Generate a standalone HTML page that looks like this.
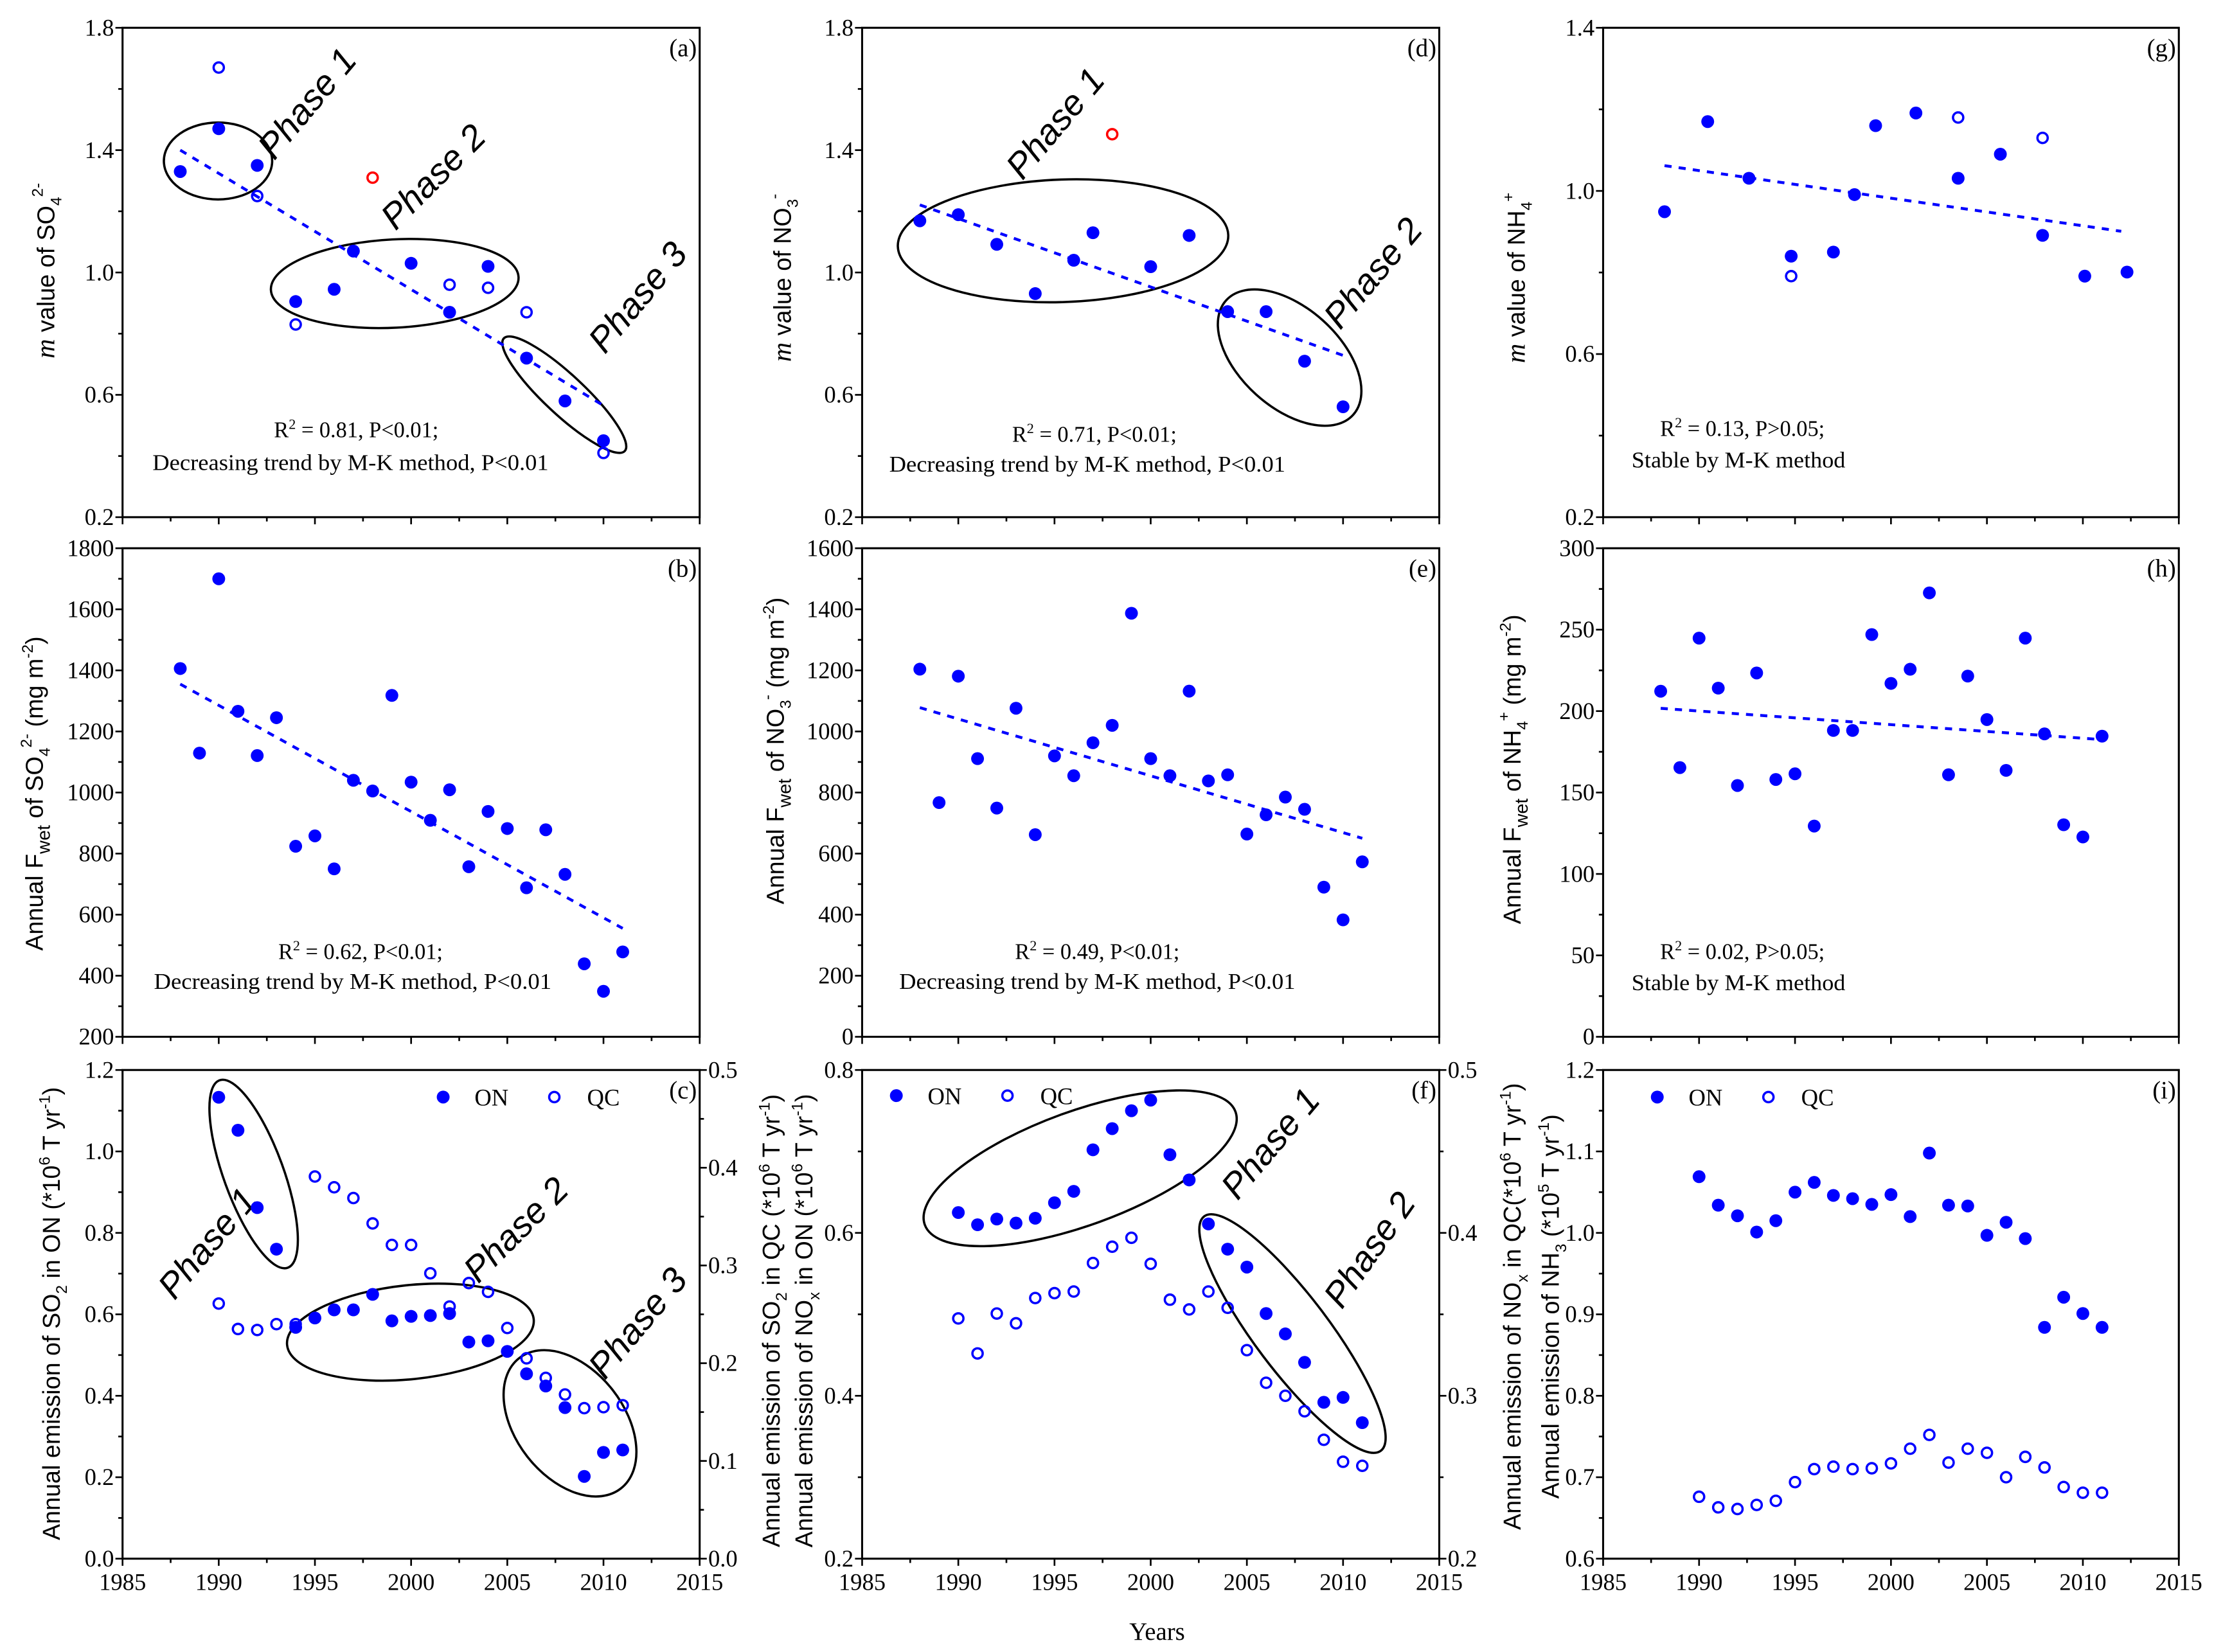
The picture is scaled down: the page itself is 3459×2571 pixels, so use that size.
<!DOCTYPE html>
<html><head><meta charset="utf-8"><title>Deposition trends</title>
<style>
html,body{margin:0;padding:0;background:#fff;}
svg{display:block;}
.tk{font-family:"Liberation Serif",serif;font-size:16.5px;fill:#000;}
.plab{font-family:"Liberation Serif",serif;font-size:17.5px;fill:#000;}
.ttl{font-family:"Liberation Sans",sans-serif;font-size:17px;fill:#000;}
.ann{font-family:"Liberation Serif",serif;font-size:15.5px;fill:#000;}
.ph{font-family:"Liberation Sans",sans-serif;font-size:25px;fill:#000;font-style:italic;}
</style></head>
<body>
<svg id="fig" xmlns="http://www.w3.org/2000/svg" width="3459" height="2571" viewBox="0 0 1560 1159.5" preserveAspectRatio="none">
<rect x="0" y="0" width="1560" height="1159.5" fill="#fff"/>

<!-- y-axis titles -->
<text class="ttl" transform="translate(38,190) rotate(-90)" text-anchor="middle"><tspan font-family="Liberation Serif" font-style="italic" font-size="19">m</tspan> value of SO<tspan font-size="11" dy="5">4</tspan><tspan font-size="11" dy="-13">2-</tspan></text>
<text class="ttl" transform="translate(30,557) rotate(-90)" text-anchor="middle">Annual F<tspan font-size="13" dy="5">wet</tspan><tspan dy="-5"> of SO</tspan><tspan font-size="11" dy="5">4</tspan><tspan font-size="11" dy="-13">2-</tspan><tspan dy="8"> (mg m</tspan><tspan font-size="11" dy="-7">-2</tspan><tspan dy="7">)</tspan></text>
<text class="ttl" transform="translate(42,922) rotate(-90)" text-anchor="middle">Annual emission of SO<tspan font-size="11" dy="5">2</tspan><tspan dy="-5"> in ON (*10</tspan><tspan font-size="11" dy="-7">6</tspan><tspan dy="7"> T yr</tspan><tspan font-size="11" dy="-7">-1</tspan><tspan dy="7">)</tspan></text>

<text class="ttl" transform="translate(555,195) rotate(-90)" text-anchor="middle"><tspan font-family="Liberation Serif" font-style="italic" font-size="19">m</tspan> value of NO<tspan font-size="11" dy="5">3</tspan><tspan font-size="11" dy="-13">-</tspan></text>
<text class="ttl" transform="translate(550,527) rotate(-90)" text-anchor="middle">Annual F<tspan font-size="13" dy="5">wet</tspan><tspan dy="-5"> of NO</tspan><tspan font-size="11" dy="5">3</tspan><tspan font-size="11" dy="-13">-</tspan><tspan dy="8"> (mg m</tspan><tspan font-size="11" dy="-7">-2</tspan><tspan dy="7">)</tspan></text>
<text class="ttl" transform="translate(547,927) rotate(-90)" text-anchor="middle">Annual emission of SO<tspan font-size="11" dy="5">2</tspan><tspan dy="-5"> in QC (*10</tspan><tspan font-size="11" dy="-7">6</tspan><tspan dy="7"> T yr</tspan><tspan font-size="11" dy="-7">-1</tspan><tspan dy="7">)</tspan></text>
<text class="ttl" transform="translate(570,927) rotate(-90)" text-anchor="middle">Annual emission of NO<tspan font-size="11" dy="5">x</tspan><tspan dy="-5"> in ON (*10</tspan><tspan font-size="11" dy="-7">6</tspan><tspan dy="7"> T yr</tspan><tspan font-size="11" dy="-7">-1</tspan><tspan dy="7">)</tspan></text>

<text class="ttl" transform="translate(1070,195) rotate(-90)" text-anchor="middle"><tspan font-family="Liberation Serif" font-style="italic" font-size="19">m</tspan> value of NH<tspan font-size="11" dy="5">4</tspan><tspan font-size="11" dy="-13">+</tspan></text>
<text class="ttl" transform="translate(1067,540) rotate(-90)" text-anchor="middle">Annual F<tspan font-size="13" dy="5">wet</tspan><tspan dy="-5"> of NH</tspan><tspan font-size="11" dy="5">4</tspan><tspan font-size="11" dy="-13">+</tspan><tspan dy="8"> (mg m</tspan><tspan font-size="11" dy="-7">-2</tspan><tspan dy="7">)</tspan></text>
<text class="ttl" transform="translate(1067,917) rotate(-90)" text-anchor="middle">Annual emission of NO<tspan font-size="11" dy="5">x</tspan><tspan dy="-5"> in QC(*10</tspan><tspan font-size="11" dy="-7">6</tspan><tspan dy="7"> T yr</tspan><tspan font-size="11" dy="-7">-1</tspan><tspan dy="7">)</tspan></text>
<text class="ttl" transform="translate(1094,917) rotate(-90)" text-anchor="middle">Annual emission of NH<tspan font-size="11" dy="5">3</tspan><tspan dy="-5"> (*10</tspan><tspan font-size="11" dy="-7">5</tspan><tspan dy="7"> T yr</tspan><tspan font-size="11" dy="-7">-1</tspan><tspan dy="7">)</tspan></text>

<text x="812" y="1151" text-anchor="middle" style="font-family:'Liberation Serif',serif;font-size:17.5px;fill:#000">Years</text>

<!-- annotations -->
<text class="ann" x="250" y="307" text-anchor="middle">R<tspan font-size="10" dy="-6">2</tspan><tspan dy="6"> = 0.81, P&lt;0.01;</tspan></text>
<text class="ann" x="107" y="330" textLength="278" lengthAdjust="spacingAndGlyphs">Decreasing trend by M-K method, P&lt;0.01</text>
<text class="ann" x="253" y="673" text-anchor="middle">R<tspan font-size="10" dy="-6">2</tspan><tspan dy="6"> = 0.62, P&lt;0.01;</tspan></text>
<text class="ann" x="108" y="694" textLength="279" lengthAdjust="spacingAndGlyphs">Decreasing trend by M-K method, P&lt;0.01</text>
<text class="ann" x="768" y="310" text-anchor="middle">R<tspan font-size="10" dy="-6">2</tspan><tspan dy="6"> = 0.71, P&lt;0.01;</tspan></text>
<text class="ann" x="624" y="331" textLength="278" lengthAdjust="spacingAndGlyphs">Decreasing trend by M-K method, P&lt;0.01</text>
<text class="ann" x="770" y="673" text-anchor="middle">R<tspan font-size="10" dy="-6">2</tspan><tspan dy="6"> = 0.49, P&lt;0.01;</tspan></text>
<text class="ann" x="631" y="694" textLength="278" lengthAdjust="spacingAndGlyphs">Decreasing trend by M-K method, P&lt;0.01</text>
<text class="ann" x="1165" y="306">R<tspan font-size="10" dy="-6">2</tspan><tspan dy="6"> = 0.13, P&gt;0.05;</tspan></text>
<text class="ann" x="1145" y="328" textLength="150" lengthAdjust="spacingAndGlyphs">Stable by M-K method</text>
<text class="ann" x="1165" y="673">R<tspan font-size="10" dy="-6">2</tspan><tspan dy="6"> = 0.02, P&gt;0.05;</tspan></text>
<text class="ann" x="1145" y="695" textLength="150" lengthAdjust="spacingAndGlyphs">Stable by M-K method</text>

<!-- phase ellipses & labels -->
<g fill="none" stroke="#000" stroke-width="1.6">
<ellipse cx="153" cy="113" rx="38" ry="27"/>
<ellipse cx="277" cy="199" rx="87" ry="31" transform="rotate(-3 277 199)"/>
<ellipse cx="396" cy="277" rx="58" ry="14" transform="rotate(43 396 277)"/>
<ellipse cx="178" cy="824" rx="70" ry="21" transform="rotate(70 178 824)"/>
<ellipse cx="288" cy="935" rx="87" ry="33" transform="rotate(-6 288 935)"/>
<ellipse cx="400" cy="999" rx="58" ry="38" transform="rotate(52 400 999)"/>
<ellipse cx="746" cy="169" rx="116" ry="43" transform="rotate(-2 746 169)"/>
<ellipse cx="905" cy="251" rx="60" ry="35" transform="rotate(42 905 251)"/>
<ellipse cx="758" cy="820" rx="116" ry="40" transform="rotate(-20 758 820)"/>
<ellipse cx="907" cy="936" rx="103" ry="26" transform="rotate(53 907 936)"/>
</g>
<text class="ph" transform="translate(222,78) rotate(-50)" text-anchor="middle">Phase 1</text>
<text class="ph" transform="translate(310,130) rotate(-45)" text-anchor="middle">Phase 2</text>
<text class="ph" transform="translate(454,214) rotate(-50)" text-anchor="middle">Phase 3</text>
<text class="ph" transform="translate(152,878) rotate(-50)" text-anchor="middle">Phase 1</text>
<text class="ph" transform="translate(368,869) rotate(-45)" text-anchor="middle">Phase 2</text>
<text class="ph" transform="translate(454,934) rotate(-50)" text-anchor="middle">Phase 3</text>
<text class="ph" transform="translate(747,92) rotate(-50)" text-anchor="middle">Phase 1</text>
<text class="ph" transform="translate(970,197) rotate(-50)" text-anchor="middle">Phase 2</text>
<text class="ph" transform="translate(898,808) rotate(-50)" text-anchor="middle">Phase 1</text>
<text class="ph" transform="translate(968,882) rotate(-55)" text-anchor="middle">Phase 2</text>
<g id="plots"></g>
</svg>

<script>
// ---------- data ----------
const aYearsF = [1988,1990,1992,1994,1996,1997,2000,2002,2004,2006,2008,2010];
const aValsF = [1.33,1.47,1.35,0.905,0.945,1.07,1.03,0.87,1.02,0.72,0.58,0.45];
const aYearsO = [1990,1992,1994,2002,2004,2006,2010];
const aValsO = [1.67,1.25,0.83,0.96,0.95,0.87,0.41];
const aOutYears = [1998];
const aOutVals = [1.31];
const aTrendYears = [1988,2010];
const aTrendVals = [1.40,0.565];

const bYears = [1988,1989,1990,1991,1992,1993,1994,1995,1996,1997,1998,1999,2000,2001,2002,2003,2004,2005,2006,2007,2008,2009,2010,2011];
const bVals = [1406,1129,1700,1266,1121,1245,824,858,750,1040,1005,1318,1034,909,1009,757,938,882,688,878,732,439,349,478];
const bTrendYears = [1988,2011];
const bTrendVals = [1355,555];

const dYearsF = [1988,1990,1992,1994,1996,1997,2000,2002,2004,2006,2008,2010];
const dValsF = [1.169,1.189,1.092,0.931,1.04,1.13,1.019,1.121,0.872,0.872,0.71,0.561];
const dOutYears = [1998];
const dOutVals = [1.452];
const dTrendYears = [1988,2010];
const dTrendVals = [1.221,0.729];

const eYears = [1988,1989,1990,1991,1992,1993,1994,1995,1996,1997,1998,1999,2000,2001,2002,2003,2004,2005,2006,2007,2008,2009,2010,2011];
const eVals = [1204,767,1181,911,749,1076,662,920,855,963,1020,1387,911,855,1132,838,858,664,727,785,745,490,383,573];
const eTrendYears = [1988,2011];
const eTrendVals = [1078,650];

const gYearsF = [1988.2,1990.45,1992.6,1994.8,1997,1998.1,1999.2,2001.3,2003.5,2005.7,2007.9,2010.1,2012.3];
const gValsF = [0.949,1.17,1.031,0.84,0.85,0.991,1.16,1.191,1.031,1.09,0.891,0.791,0.801];
const gYearsO = [1994.8,2003.5,2007.9];
const gValsO = [0.791,1.18,1.13];
const gTrendYears = [1988.2,2012];
const gTrendVals = [1.062,0.901];

const hYears = [1988,1989,1990,1991,1992,1993,1994,1995,1996,1997,1998,1999,2000,2001,2002,2003,2004,2005,2006,2007,2008,2009,2010,2011];
const hVals = [212.2,165.3,244.8,214.1,154.3,223.4,158,161.5,129.4,188.1,188.1,247,217,225.7,272.6,160.9,221.5,194.8,163.6,244.8,186,130.2,122.7,184.6];
const hTrendYears = [1988,2011];
const hTrendVals = [201.7,182.5];

const emYears = [1990,1991,1992,1993,1994,1995,1996,1997,1998,1999,2000,2001,2002,2003,2004,2005,2006,2007,2008,2009,2010,2011];
const cON = [1.133,1.052,0.862,0.760,0.568,0.591,0.611,0.611,0.649,0.584,0.595,0.597,0.602,0.532,0.535,0.509,0.454,0.424,0.371,0.202,0.261,0.267];
const cQC = [0.261,0.235,0.234,0.240,0.240,0.391,0.380,0.369,0.343,0.321,0.321,0.292,0.258,0.282,0.273,0.236,0.205,0.185,0.168,0.154,0.155,0.157];
const fON = [0.625,0.610,0.617,0.612,0.618,0.637,0.651,0.702,0.728,0.750,0.763,0.696,0.665,0.611,0.580,0.558,0.501,0.476,0.441,0.392,0.398,0.367];
const fQC = [0.495,0.452,0.501,0.489,0.520,0.526,0.528,0.563,0.583,0.594,0.562,0.518,0.506,0.528,0.508,0.456,0.416,0.400,0.381,0.346,0.319,0.314];
const iON = [1.069,1.034,1.021,1.001,1.015,1.050,1.062,1.046,1.042,1.035,1.047,1.020,1.098,1.034,1.033,0.997,1.013,0.993,0.884,0.921,0.901,0.884];
const iQC = [0.676,0.663,0.661,0.666,0.671,0.694,0.710,0.713,0.710,0.711,0.717,0.735,0.752,0.718,0.735,0.730,0.700,0.725,0.712,0.688,0.681,0.681];

const xTickYears = [1985,1990,1995,2000,2005,2010,2015];

// ---------- drawing ----------
const NS = 'http://www.w3.org/2000/svg';
const root = document.getElementById('plots');
function mk(tag, name, parent){
  const el = document.createElementNS(NS, tag);
  
  
  (parent||root).appendChild(el);
  return el;
}
function attrs(el, o){ for (const k in o) el.setAttribute(k, o[k]); return el; }

const COLS = [[86,491],[605,1010],[1125,1529]];
const ROWS = [[19.5,363],[384.8,727.7],[751,1094]];

function panel(id, col, row, ymin, ymax, major, minor, dec, showX){
  const p = {id, x0:COLS[col][0], x1:COLS[col][1], y0:ROWS[row][0], y1:ROWS[row][1], ymin, ymax};
  p.xs = v => p.x0 + (v-1985)/30*(p.x1-p.x0);
  p.ys = v => p.y1 - (v-ymin)/(ymax-ymin)*(p.y1-p.y0);
  const g = mk('g', 'panel-'+id);
  p.g = g;
  const fr = mk('rect', 'plot-frame-'+id, g);
  attrs(fr, {x:p.x0, y:p.y0, width:p.x1-p.x0, height:p.y1-p.y0, fill:'none', stroke:'#000', 'stroke-width':1.4});
  for (let yr=1985; yr<=2015.01; yr+=2.5){
    const isMaj = Math.abs(yr%5) < 0.01;
    const t = mk('line', 'x-tick-'+id, g);
    attrs(t, {x1:p.xs(yr), x2:p.xs(yr), y1:p.y1, y2:p.y1+(isMaj?5:3), stroke:'#000', 'stroke-width':1.2});
  }
  if (showX){
    xTickYears.forEach(yr => {
      const tx = mk('text', 'x-tick-label-'+id, g);
      attrs(tx, {x:p.xs(yr), y:p.y1+22, 'text-anchor':'middle', class:'tk'});
      tx.textContent = String(yr);
    });
  }
  const n = Math.round((ymax-ymin)/minor);
  for (let k=0; k<=n; k++){
    const v = ymin + k*minor;
    const isMaj = Math.abs(((v-ymin)/major) - Math.round((v-ymin)/major)) < 1e-6;
    const t = mk('line', 'y-tick-'+id, g);
    attrs(t, {x1:p.x0, x2:p.x0-(isMaj?5:3), y1:p.ys(v), y2:p.ys(v), stroke:'#000', 'stroke-width':1.2});
    if (isMaj){
      const tx = mk('text', 'y-tick-label-'+id, g);
      attrs(tx, {x:p.x0-6, y:p.ys(v)+5.5, 'text-anchor':'end', class:'tk'});
      tx.textContent = v.toFixed(dec);
    }
  }
  const lb = mk('text', 'panel-label-'+id, g);
  attrs(lb, {x:p.x1-2, y:p.y0+20, 'text-anchor':'end', class:'plab'});
  lb.textContent = '('+id+')';
  return p;
}
function rightAxis(p, rmin, rmax, major, minor){
  p.rs = v => p.y1 - (v-rmin)/(rmax-rmin)*(p.y1-p.y0);
  const n = Math.round((rmax-rmin)/minor);
  for (let k=0;k<=n;k++){
    const v = rmin + k*minor;
    const isMaj = Math.abs(((v-rmin)/major) - Math.round((v-rmin)/major)) < 1e-6;
    const t = mk('line', 'right-y-tick-'+p.id, p.g);
    attrs(t, {x1:p.x1, x2:p.x1+(isMaj?5:3), y1:p.rs(v), y2:p.rs(v), stroke:'#000', 'stroke-width':1.2});
    if (isMaj){
      const tx = mk('text', 'right-y-tick-label-'+p.id, p.g);
      attrs(tx, {x:p.x1+6, y:p.rs(v)+5.5, 'text-anchor':'start', class:'tk'});
      tx.textContent = v.toFixed(1);
    }
  }
}
function dots(p, years, vals, filled, color, name, yf){
  const f = yf || p.ys;
  years.forEach((yr,i) => {
    const c = mk('circle', name, p.g);
    if (filled) attrs(c, {cx:p.xs(yr), cy:f(vals[i]), r:4.5, fill:color});
    else attrs(c, {cx:p.xs(yr), cy:f(vals[i]), r:3.6, fill:'none', stroke:color, 'stroke-width':1.6});
  });
}
function trend(p, years, vals){
  const l = mk('line', 'trend-line-'+p.id, p.g);
  attrs(l, {x1:p.xs(years[0]), y1:p.ys(vals[0]), x2:p.xs(years[1]), y2:p.ys(vals[1]), stroke:'#0000ff', 'stroke-width':2, 'stroke-dasharray':'5,5'});
}
function legend(p, fx, y){
  const c1 = mk('circle', 'legend-marker-on-'+p.id, p.g);
  attrs(c1, {cx:fx, cy:y, r:4.5, fill:'#0000ff'});
  const t1 = mk('text', 'legend-label-on-'+p.id, p.g);
  attrs(t1, {x:fx+22, y:y+6, class:'tk'});
  t1.textContent = 'ON';
  const c2 = mk('circle', 'legend-marker-qc-'+p.id, p.g);
  attrs(c2, {cx:fx+78, cy:y, r:3.6, fill:'none', stroke:'#0000ff', 'stroke-width':1.6});
  const t2 = mk('text', 'legend-label-qc-'+p.id, p.g);
  attrs(t2, {x:fx+101, y:y+6, class:'tk'});
  t2.textContent = 'QC';
}
const BLUE = '#0000ff';

const pa = panel('a',0,0,0.2,1.8,0.4,0.2,1,false);
trend(pa, aTrendYears, aTrendVals);
dots(pa, aYearsF, aValsF, true, BLUE, 'point-filled-a');
dots(pa, aYearsO, aValsO, false, BLUE, 'point-open-a');
dots(pa, aOutYears, aOutVals, false, '#ff0000', 'point-outlier-a');

const pb = panel('b',0,1,200,1800,200,100,0,false);
trend(pb, bTrendYears, bTrendVals);
dots(pb, bYears, bVals, true, BLUE, 'point-b');

const pc = panel('c',0,2,0,1.2,0.2,0.1,1,true);
rightAxis(pc, 0, 0.5, 0.1, 0.05);
dots(pc, emYears, cON, true, BLUE, 'point-on-c');
dots(pc, emYears, cQC, false, BLUE, 'point-qc-c', pc.rs);
legend(pc, 311, 770);

const pd = panel('d',1,0,0.2,1.8,0.4,0.2,1,false);
trend(pd, dTrendYears, dTrendVals);
dots(pd, dYearsF, dValsF, true, BLUE, 'point-filled-d');
dots(pd, dOutYears, dOutVals, false, '#ff0000', 'point-outlier-d');

const pe = panel('e',1,1,0,1600,200,100,0,false);
trend(pe, eTrendYears, eTrendVals);
dots(pe, eYears, eVals, true, BLUE, 'point-e');

const pf = panel('f',1,2,0.2,0.8,0.2,0.1,1,true);
rightAxis(pf, 0.2, 0.5, 0.1, 0.05);
dots(pf, emYears, fON, true, BLUE, 'point-on-f');
dots(pf, emYears, fQC, false, BLUE, 'point-qc-f');
legend(pf, 629, 769);

const pg = panel('g',2,0,0.2,1.4,0.4,0.2,1,false);
trend(pg, gTrendYears, gTrendVals);
dots(pg, gYearsF, gValsF, true, BLUE, 'point-filled-g');
dots(pg, gYearsO, gValsO, false, BLUE, 'point-open-g');

const ph = panel('h',2,1,0,300,50,25,0,false);
trend(ph, hTrendYears, hTrendVals);
dots(ph, hYears, hVals, true, BLUE, 'point-h');

const pi = panel('i',2,2,0.6,1.2,0.1,0.05,1,true);
dots(pi, emYears, iON, true, BLUE, 'point-on-i');
dots(pi, emYears, iQC, false, BLUE, 'point-qc-i');
legend(pi, 1163, 770);
</script>
</body></html>
